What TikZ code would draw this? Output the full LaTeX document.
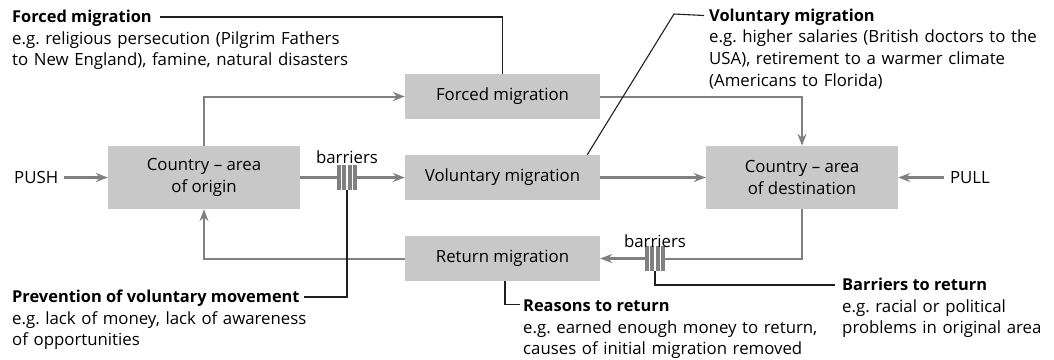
\documentclass[tikz,border=0pt]{standalone}
\usepackage{fontspec}
\setmainfont{Open Sans}
\usepackage{tikz}
\usetikzlibrary{arrows.meta}
\definecolor{BoxGrey}{RGB}{200,200,200}
\definecolor{FlowGrey}{RGB}{128,128,128}
\definecolor{LeadInk}{RGB}{35,31,32}
\frenchspacing
\newcommand{\Barrier}[3]{% name x y
\node[inner sep=0pt,minimum width=20.5pt,minimum height=25pt] (#1) at (#2,#3) {};
\foreach \dx in {-8.25,-2.75,2.75,8.25}
  \fill[FlowGrey] ({#2+\dx-1.9},{#3-12.5}) rectangle ({#2+\dx+1.9},{#3+12.5});
}
\newcommand{\Note}[5]{% name x y heading body
\node[head] (#1) at (#2,#3) {#4};
\node[body] (#1text) at (#2,#3+21.7) {#5};
}

\begin{document}
\begin{tikzpicture}[x=1pt,y=-1pt,
  every node/.style={font=\fontsize{16.8}{21.7}\selectfont},
  box/.style={fill=BoxGrey,inner sep=0pt,align=center,minimum width=195pt,minimum height=45pt},
  bigbox/.style={box,minimum width=192pt,minimum height=63pt},
  head/.style={anchor=base west,inner sep=0pt,font=\fontsize{16.4}{21.7}\selectfont\bfseries},
  body/.style={anchor=base west,inner sep=0pt,text width=360pt,align=left},
  flow/.style={draw=FlowGrey,line width=3.2pt},
  thinflow/.style={draw=FlowGrey,line width=2pt},
  tip/.style={-{Stealth[length=12pt,width=9pt,inset=4pt]}},
  lead/.style={draw=LeadInk,line width=1.1pt}]
\useasboundingbox (0,0) rectangle (1054,359);
% countries and the three kinds of movement
\node[bigbox] (origin) at (204,177.5) {Country -- area\\of origin};
\node[bigbox] (dest) at (802,177.5) {Country -- area\\of destination};
\node[box] (forced) at (502.5,96.5) {Forced migration};
\node[box] (vol) at (502.5,177.5) {Voluntary migration};
\node[box] (ret) at (502.5,258.5) {Return migration};
\node[anchor=base west,inner sep=0pt] (push) at (14,183) {PUSH};
\node[anchor=base east,inner sep=0pt] (pull) at (990,183) {PULL};
% barriers on the way out and on the way back
\Barrier{barout}{347}{177.5}
\Barrier{barback}{655}{258.5}
\node[anchor=base,inner sep=0pt] (baroutlbl) at (347,163) {barriers};
\node[anchor=base,inner sep=0pt] (barbacklbl) at (655,247) {barriers};
% main flows
\draw[flow,tip] ([xshift=6pt]push.east |- origin.west) -- (origin.west);
\draw[flow] (origin.east) -- (barout.west);
\draw[flow,tip] (barout.east) -- (vol.west);
\draw[flow,tip] (vol.east) -- (dest.west);
\draw[flow,tip] ([xshift=-6pt]pull.west |- dest.east) -- (dest.east);
\draw[thinflow,tip] (origin.north) |- (forced.west);
\draw[thinflow,tip] (forced.east) -| (dest.north);
\draw[thinflow] (dest.south) |- (barback.east);
\draw[flow,tip] (barback.west) -- (ret.east);
\draw[thinflow,tip] (ret.west) -| (origin.south);
% notes
\Note{fm}{12}{22.5}{Forced migration}{e.g. religious persecution (Pilgrim Fathers\\to New England), famine, natural disasters}
\Note{vm}{709}{21}{Voluntary migration}{e.g. higher salaries (British doctors to the\\USA), retirement to a warmer climate\\(Americans to Florida)}
\Note{pv}{12}{302.5}{Prevention of voluntary movement}{e.g. lack of money, lack of awareness\\of opportunities}
\Note{rr}{523}{311.5}{Reasons to return}{e.g. earned enough money to return,\\causes of initial migration removed}
\Note{br}{842}{290.5}{Barriers to return}{e.g. racial or political\\problems in original area}
% leader lines
\coordinate (fmtip) at ([shift={(8pt,5.5pt)}]fm.base east);
\coordinate (vmtip) at ([shift={(-5pt,5.5pt)}]vm.base west);
\coordinate (vmbend) at (674,14);
\coordinate (pvtip) at ([shift={(4pt,5.5pt)}]pv.base east);
\coordinate (rrtip) at ([shift={(-3pt,7pt)}]rr.base west);
\coordinate (brtip) at ([shift={(-7pt,5.5pt)}]br.base west);
\draw[lead] (fmtip) -| (forced.north);
\draw[lead] ([xshift=-13pt]vol.north east) -- (vmbend) -- (vmtip);
\draw[lead] (barout.south) |- (pvtip);
\draw[lead] ([xshift=2.5pt]ret.south) |- (rrtip);
\draw[lead] (barback.south) |- (brtip);
\end{tikzpicture}
\end{document}
